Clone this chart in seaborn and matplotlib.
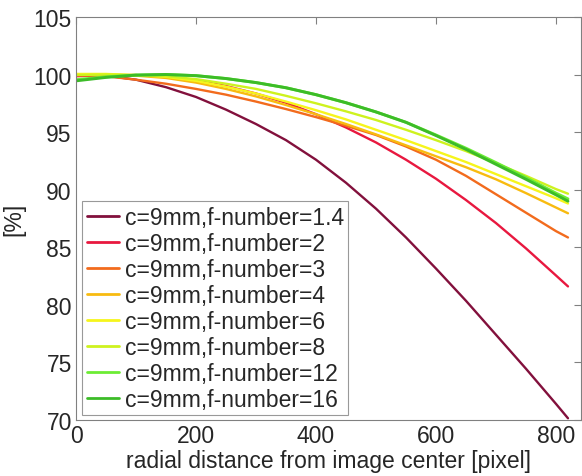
import pandas as pd
import seaborn as sns
import matplotlib
matplotlib.use('Agg')
import matplotlib.pyplot as plt

# radial distance samples [pixel]
radius = [0, 50, 100, 150, 200, 250, 300, 350, 400, 450, 500, 550, 600, 650, 700, 750, 800, 820]

# relative illumination [%], one list per f-number
f1_4 = [99.9, 99.9, 99.55, 98.9, 98.05, 96.95, 95.7, 94.3, 92.6, 90.6, 88.35, 85.85, 83.15, 80.35, 77.4, 74.45, 71.4, 70.15]
f2 = [99.85, 99.95, 99.95, 99.8, 99.5, 99.0, 98.35, 97.55, 96.55, 95.4, 94.1, 92.6, 90.95, 89.1, 87.1, 84.9, 82.55, 81.6]
f3 = [99.95, 99.85, 99.55, 99.2, 98.75, 98.25, 97.65, 97.0, 96.3, 95.55, 94.75, 93.75, 92.6, 91.2, 89.6, 88.0, 86.4, 85.85]
f4 = [100.0, 100.0, 99.9, 99.7, 99.3, 98.75, 98.1, 97.35, 96.55, 95.7, 94.8, 93.85, 92.9, 91.95, 90.9, 89.7, 88.45, 87.95]
f6 = [100.05, 100.05, 99.95, 99.8, 99.45, 98.95, 98.35, 97.65, 96.9, 96.1, 95.2, 94.3, 93.35, 92.4, 91.35, 90.3, 89.25, 88.8]
f8 = [99.95, 100.0, 99.95, 99.85, 99.6, 99.2, 98.75, 98.15, 97.5, 96.8, 96.05, 95.2, 94.3, 93.35, 92.3, 91.2, 90.05, 89.65]
f12 = [99.55, 99.8, 99.95, 100.0, 99.9, 99.65, 99.3, 98.85, 98.25, 97.55, 96.75, 95.85, 94.75, 93.6, 92.35, 91.05, 89.7, 89.2]
f16 = [99.45, 99.75, 99.95, 100.0, 99.9, 99.65, 99.3, 98.85, 98.25, 97.55, 96.75, 95.85, 94.7, 93.5, 92.2, 90.9, 89.55, 89.0]

labels = ['c=9mm,f-number=1.4', 'c=9mm,f-number=2', 'c=9mm,f-number=3', 'c=9mm,f-number=4',
          'c=9mm,f-number=6', 'c=9mm,f-number=8', 'c=9mm,f-number=12', 'c=9mm,f-number=16']
colors = ['#82103c', '#e8183f', '#f26b1d', '#f8bb10', '#f6f51c', '#cef21e', '#6cec34', '#3cbc28']

series = [f1_4, f2, f3, f4, f6, f8, f12, f16]
df = pd.DataFrame({
    'r': radius * len(series),
    'val': [v for s in series for v in s],
    'lens': [lab for lab in labels for _ in radius],
})

sns.set_style('white')
plt.rcParams['font.family'] = ['Liberation Sans', 'DejaVu Sans']

fig = plt.figure(figsize=(5.82, 4.77), dpi=100)
ax = fig.add_axes([0.1306, 0.1174, 0.868, 0.845])

sns.lineplot(data=df, x='r', y='val', hue='lens', hue_order=labels, palette=colors,
             linewidth=1.7, ax=ax, sort=False)
# the two green curves look a bit heavier in the original
for line in ax.get_lines()[6:8]:
    line.set_linewidth(2.1)

ax.set_xlim(0, 842)
ax.set_ylim(70, 105)
ax.set_xticks([0, 200, 400, 600, 800])
ax.set_yticks([70, 75, 80, 85, 90, 95, 100, 105])
ax.tick_params(direction='in', length=5, width=0.8, color='#808080', labelsize=16.5,
               top=True, right=True, pad=3)
for sp in ax.spines.values():
    sp.set_color('#808080')
    sp.set_linewidth(0.8)
    sp.set_visible(True)

ax.set_xlabel('radial distance from image center [pixel]', fontsize=16.5, labelpad=1)
ax.set_ylabel('[%]', fontsize=16.5, labelpad=6)

leg = ax.legend(loc='lower left', bbox_to_anchor=(0.012, 0.012), fontsize=16.5,
                frameon=True, fancybox=False, handlelength=1.4, handletextpad=0.26,
                labelspacing=0.13, borderpad=0.2, borderaxespad=0)
leg.get_frame().set_edgecolor('#808080')
leg.get_frame().set_linewidth(0.8)
for line in leg.get_lines():
    line.set_linewidth(2)

fig.savefig('out.png', dpi=100)
